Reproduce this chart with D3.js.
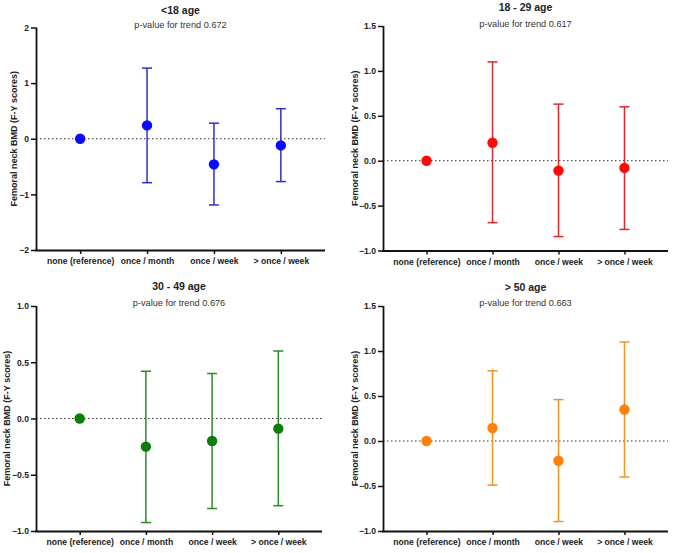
<!DOCTYPE html>
<html><head><meta charset="utf-8">
<script src="https://cdn.jsdelivr.net/npm/d3@7"></script>
<style>body{margin:0;background:#fff}svg{display:block}</style>
</head><body><svg id="c" width="676" height="553"></svg>
<script>
const categories = ["none (reference)", "once / month", "once / week", "> once / week"];
const titles = ["<18 age", "18 - 29 age", "30 - 49 age", "> 50 age"];
const pvalues = ["0.672", "0.617", "0.676", "0.663"];
const est = [
  [0, 0.24, -0.46, -0.12],
  [0, 0.20, -0.11, -0.08],
  [0, -0.25, -0.20, -0.09],
  [0, 0.145, -0.22, 0.35]
];
const lower = [
  [0, -0.79, -1.19, -0.77],
  [0, -0.69, -0.845, -0.765],
  [0, -0.925, -0.80, -0.775],
  [0, -0.49, -0.895, -0.40]
];
const upper = [
  [0, 1.27, 0.28, 0.54],
  [0, 1.10, 0.63, 0.60],
  [0, 0.42, 0.40, 0.60],
  [0, 0.78, 0.46, 1.10]
];
const yDomains = [[-2, 2], [-1, 1.5], [-1, 1], [-1, 1.5]];
const yTicks = [[-2, -1, 0, 1, 2], [-1, -0.5, 0, 0.5, 1, 1.5], [-1, -0.5, 0, 0.5, 1], [-1, -0.5, 0, 0.5, 1, 1.5]];
const tickFmt = [d3.format("d"), d3.format(".1f"), d3.format(".1f"), d3.format(".1f")];
const pointColors = ["#0a0aff", "#ff0a0a", "#0b7d0b", "#ff800a"];
const lineColors = ["#3030c8", "#e02828", "#2a8a2a", "#f39320"];

const layout = [
  {x0: 36, x1: 325, y0: 250, y1: 27.5, ty: 14, sy: 28, lx: 19},
  {x0: 383, x1: 668, y0: 250.5, y1: 26, ty: 11, sy: 27, lx: 25},
  {x0: 36, x1: 322, y0: 531, y1: 306, ty: 290, sy: 306, lx: 26},
  {x0: 383, x1: 668, y0: 531, y1: 306, ty: 291, sy: 306, lx: 25}
];

const svg = d3.select("#c");
const font = "Arial, 'Liberation Sans', sans-serif";

layout.forEach((L, i) => {
  const g = svg.append("g");
  const x = d3.scalePoint().domain(categories).range([L.x0, L.x1]).padding(0.66);
  const y = d3.scaleLinear().domain(yDomains[i]).range([L.y0, L.y1]);

  // reference dotted line at 0
  g.append("line").attr("x1", L.x0).attr("x2", L.x1)
    .attr("y1", y(0)).attr("y2", y(0))
    .attr("stroke", "#333").attr("stroke-width", 1).attr("stroke-dasharray", "1.5,2.5");

  // axes
  const ya = g.append("g").attr("transform", `translate(${L.x0},0)`)
    .call(d3.axisLeft(y).tickValues(yTicks[i]).tickFormat(tickFmt[i]).tickSize(5).tickSizeOuter(0).tickPadding(2));
  const xa = g.append("g").attr("transform", `translate(0,${L.y0})`)
    .call(d3.axisBottom(x).tickSize(4).tickSizeOuter(0).tickPadding(4));
  [ya, xa].forEach(a => {
    a.select(".domain").attr("stroke", "#111").attr("stroke-width", 1.8);
    a.selectAll(".tick line").attr("stroke", "#111").attr("stroke-width", 1.5);
    a.selectAll("text").attr("fill", "#222").style("font-family", font).style("font-size", "8.6px").style("font-weight", "bold");
  });
  ya.select(".domain").attr("d", `M0.5,${L.y1}V${L.y0 + 0.9}`);
  xa.select(".domain").attr("d", `M${L.x0 - 0.9},0.5H${L.x1}`);

  // error bars
  const idx = d3.range(1, categories.length);
  idx.forEach(j => {
    const cx = x(categories[j]);
    g.append("line").attr("x1", cx).attr("x2", cx)
      .attr("y1", y(lower[i][j])).attr("y2", y(upper[i][j]))
      .attr("stroke", lineColors[i]).attr("stroke-width", 1.5);
    [lower[i][j], upper[i][j]].forEach(v => {
      g.append("line").attr("x1", cx - 5).attr("x2", cx + 5)
        .attr("y1", y(v)).attr("y2", y(v))
        .attr("stroke", lineColors[i]).attr("stroke-width", 1.5);
    });
  });
  // points
  g.selectAll("circle").data(est[i]).join("circle")
    .attr("cx", (d, j) => x(categories[j])).attr("cy", d => y(d))
    .attr("r", 5.2).attr("fill", pointColors[i]);

  // y label
  g.append("text")
    .attr("transform", `translate(${L.x0 - L.lx},${(L.y0 + L.y1) / 2}) rotate(-90)`)
    .attr("text-anchor", "middle")
    .style("font-family", font).style("font-size", "9px").style("font-weight", "bold").attr("fill", "#222")
    .text("Femoral neck BMD (F-Y scores)");
  // title
  const cxm = (L.x0 + L.x1) / 2;
  g.append("text").attr("x", cxm).attr("y", L.ty).attr("text-anchor", "middle")
    .style("font-family", font).style("font-size", "10.5px").style("font-weight", "bold").attr("fill", "#222")
    .text(titles[i]);
  g.append("text").attr("x", cxm).attr("y", L.sy).attr("text-anchor", "middle")
    .style("font-family", font).style("font-size", "9.2px").attr("fill", "#333")
    .text("p-value for trend " + pvalues[i]);
});
</script>
</body></html>
